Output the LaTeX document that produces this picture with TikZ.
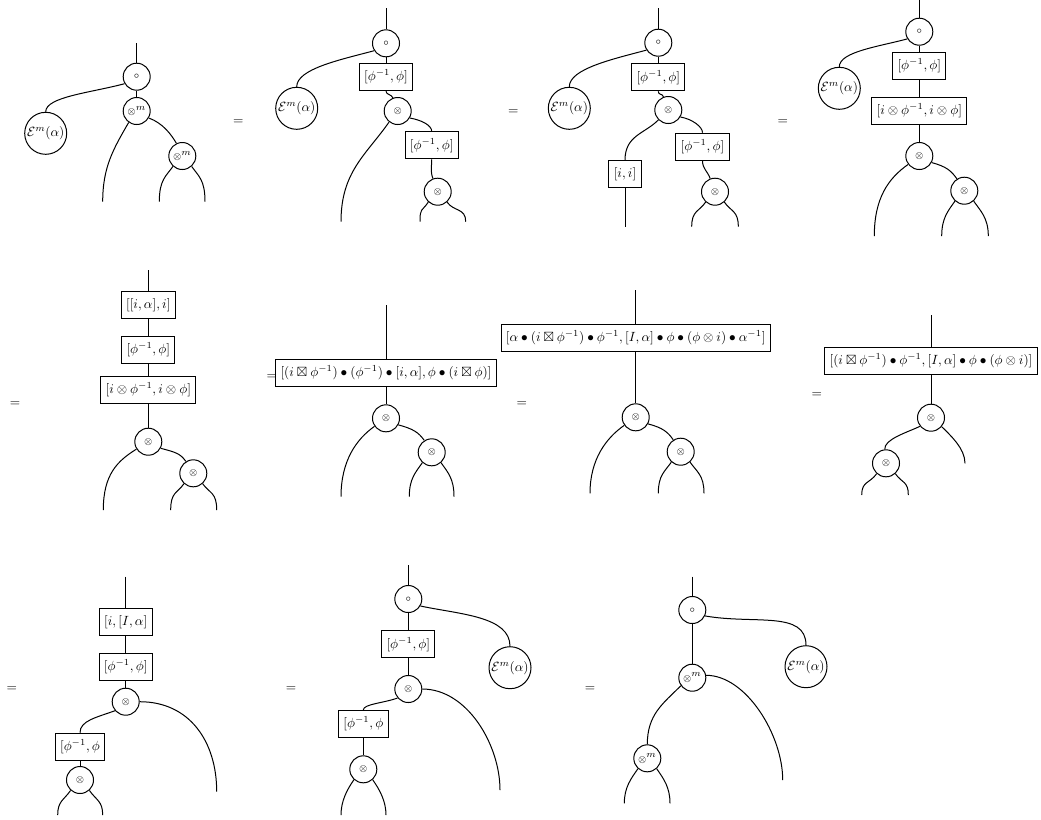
\documentclass[tikz,border=0pt]{standalone}
\usepackage{amsmath,amssymb}
\begin{document}
\begin{tikzpicture}[x=0.75pt,y=0.75pt,line width=0.75pt,
  op/.style={circle,draw,minimum size=20.25pt,inner sep=0pt},
  ec/.style={circle,draw,minimum size=31.5pt,inner sep=0pt},
  bx/.style={draw,rectangle,minimum height=20.25pt,inner sep=3.6pt},
  eqs/.style={inner sep=0pt}]
\path[use as bounding box] (0,0) rectangle (1041,-819);
\newcommand{\tm}{${\scriptstyle\otimes}$}
\newcommand{\tmm}{${\scriptstyle\otimes}^{m}$}
\newcommand{\cmp}{${\scriptstyle\circ}$}
\newcommand{\Ea}{$\mathcal{E}^m(\alpha)$}
\newcommand{\pp}{$[\phi^{-1},\phi]$}
% ---------- Diagram 1
\coordinate (a-t) at (136.7,-43);
\node[op] (a-o) at (136.7,-76.7) {\cmp};
\node[op] (a-m) at (136.7,-111) {\tmm};
\node[ec] (a-E) at (45.7,-133.3) {\Ea};
\node[op] (a-m2) at (182.3,-156) {\tmm};
\coordinate (a-l1) at (102.7,-201.7);
\coordinate (a-l2) at (159.3,-201.7);
\coordinate (a-l3) at (205,-201.7);
\draw (a-t) -- (a-o) -- (a-m);
\draw (a-o.210) .. controls +(195:35) and +(90:15) .. (a-E.north);
\draw (a-m.235) .. controls +(240:30) and +(90:35) .. (a-l1);
\draw (a-m.-30) .. controls +(-20:15) and +(120:10) .. (a-m2.115);
\draw (a-m2.228) .. controls +(235:12) and +(90:22) .. (a-l2);
\draw (a-m2.312) .. controls +(-55:12) and +(90:22) .. (a-l3);
\node[eqs] (eq1) at (238.3,-121.7) {$=$};
% ---------- Diagram 2
\coordinate (b-t) at (386,-8.3);
\node[op] (b-o) at (386,-43.3) {\cmp};
\node[bx] (b-b1) at (386,-77) {\pp};
\node[op] (b-m) at (397.7,-111) {\tm};
\node[ec] (b-E) at (296.7,-108.3) {\Ea};
\node[bx] (b-b2) at (431.7,-145.3) {\pp};
\node[op] (b-m2) at (437.7,-191.7) {\tm};
\coordinate (b-l1) at (341,-221.7);
\coordinate (b-l2) at (420,-221.7);
\coordinate (b-l3) at (465.7,-221.7);
\draw (b-t) -- (b-o) -- (b-b1);
\draw (b-o.212) .. controls +(195:35) and +(90:18) .. (b-E.north);
\draw (b-b1.south) .. controls +(-90:4) and +(110:4) .. (b-m.110);
\draw (b-m.232) .. controls +(235:40) and +(90:50) .. (b-l1);
\draw (b-m.-30) .. controls +(-10:12) and +(90:6) .. (b-b2.north);
\draw (b-b2.south) .. controls +(-90:8) and +(110:8) .. (b-m2.110);
\draw (b-m2.228) .. controls +(235:12) and +(90:14) .. (b-l2);
\draw (b-m2.312) .. controls +(-55:12) and +(90:14) .. (b-l3);
\node[eqs] (eq2) at (513.3,-111.7) {$=$};
% ---------- Diagram 3
\coordinate (c-t) at (658.3,-8.3);
\node[op] (c-o) at (658.3,-42.7) {\cmp};
\node[ec] (c-E) at (569.3,-108.3) {\Ea};
\node[bx] (c-b1) at (658.3,-77.3) {\pp};
\node[op] (c-m) at (668.3,-110) {\tm};
\node[bx] (c-bi) at (625,-174.3) {$[i,i]$};
\node[bx] (c-b2) at (702.5,-146.7) {\pp};
\node[op] (c-m2) at (715,-191.7) {\tm};
\coordinate (c-l1) at (625,-226.7);
\coordinate (c-l2) at (691.7,-226.7);
\coordinate (c-l3) at (738.3,-226.7);
\draw (c-t) -- (c-o) -- (c-b1);
\draw (c-o.212) .. controls +(195:35) and +(90:18) .. (c-E.north);
\draw (c-b1.south) .. controls +(-90:4) and +(110:4) .. (c-m.110);
\draw (c-m.225) .. controls +(225:20) and +(90:25) .. (c-bi.north);
\draw (c-bi) -- (c-l1);
\draw (c-m.-30) .. controls +(-10:12) and +(90:6) .. (c-b2.north);
\draw (c-b2.south) .. controls +(-90:8) and +(110:8) .. (c-m2.110);
\draw (c-m2.228) .. controls +(235:12) and +(90:16) .. (c-l2);
\draw (c-m2.312) .. controls +(-55:12) and +(90:16) .. (c-l3);
\node[eqs] (eq3) at (782.7,-121.7) {$=$};
% ---------- Diagram 4
\coordinate (d-t) at (919.3,0);
\node[op] (d-o) at (919.3,-31.7) {\cmp};
\node[ec] (d-E) at (839.3,-88.3) {\Ea};
\node[bx] (d-b1) at (919.3,-66) {\pp};
\node[bx] (d-b2) at (919.3,-111) {$[i\otimes\phi^{-1},i\otimes\phi]$};
\node[op] (d-m) at (919.3,-156) {\tm};
\node[op] (d-m2) at (964.3,-190.7) {\tm};
\coordinate (d-l1) at (874.3,-236);
\coordinate (d-l2) at (941.7,-236);
\coordinate (d-l3) at (988.3,-236);
\draw (d-t) -- (d-o) -- (d-b1) -- (d-b2) -- (d-m);
\draw (d-o.211) .. controls +(195:30) and +(90:15) .. (d-E.north);
\draw (d-m.217) .. controls +(215:24) and +(90:38) .. (d-l1);
\draw (d-m.-28) .. controls +(-15:15) and +(125:10) .. (d-m2.122);
\draw (d-m2.228) .. controls +(235:12) and +(90:18) .. (d-l2);
\draw (d-m2.312) .. controls +(-55:12) and +(90:18) .. (d-l3);
% ---------- Diagram 5
\node[eqs] (eq4) at (15,-404) {$=$};
\coordinate (e-t) at (148.3,-270);
\node[bx] (e-b1) at (148.3,-305) {$[[i,\alpha],i]$};
\node[bx] (e-b2) at (148.3,-350) {\pp};
\node[bx] (e-b3) at (148.3,-390) {$[i\otimes\phi^{-1},i\otimes\phi]$};
\node[op] (e-m) at (148.3,-441.7) {\tm};
\node[op] (e-m2) at (193.3,-473.3) {\tm};
\coordinate (e-l1) at (103.3,-510);
\coordinate (e-l2) at (170.7,-510);
\coordinate (e-l3) at (216.7,-510);
\draw (e-t) -- (e-b1) -- (e-b2) -- (e-b3) -- (e-m);
\draw (e-m.212) .. controls +(212:22) and +(90:36) .. (e-l1);
\draw (e-m.-28) .. controls +(-15:15) and +(125:10) .. (e-m2.122);
\draw (e-m2.228) .. controls +(235:12) and +(90:18) .. (e-l2);
\draw (e-m2.312) .. controls +(-55:12) and +(90:18) .. (e-l3);
% ---------- Diagram 6
\node[eqs] (eq5) at (271.7,-377.3) {$=$};
\coordinate (f-t) at (386,-305);
\node[bx] (f-b) at (386,-372.7) {$[(i\boxtimes\phi^{-1})\bullet(\phi^{-1})\bullet[i,\alpha],\phi\bullet(i\boxtimes\phi)]$};
\node[op] (f-m) at (386,-418.3) {\tm};
\node[op] (f-m2) at (431.7,-452.3) {\tm};
\coordinate (f-l1) at (341,-496.7);
\coordinate (f-l2) at (409.3,-496.7);
\coordinate (f-l3) at (454,-496.7);
\draw (f-t) -- (f-b) -- (f-m);
\draw (f-m.215) .. controls +(215:22) and +(90:36) .. (f-l1);
\draw (f-m.-28) .. controls +(-15:15) and +(125:10) .. (f-m2.122);
\draw (f-m2.228) .. controls +(235:12) and +(90:18) .. (f-l2);
\draw (f-m2.312) .. controls +(-55:12) and +(90:18) .. (f-l3);
% ---------- Diagram 7
\node[eqs] (eq6) at (521.7,-404) {$=$};
\coordinate (g-t) at (635.7,-290);
\node[bx] (g-b) at (635.7,-338) {$[\alpha\bullet(i\boxtimes\phi^{-1})\bullet\phi^{-1},[I,\alpha]\bullet\phi\bullet(\phi\otimes i)\bullet\alpha^{-1}]$};
\node[op] (g-m) at (635.7,-417.3) {\tm};
\node[op] (g-m2) at (680.7,-451.7) {\tm};
\coordinate (g-l1) at (590,-493.3);
\coordinate (g-l2) at (658.3,-493.3);
\coordinate (g-l3) at (704,-493.3);
\draw (g-t) -- (g-b) -- (g-m);
\draw (g-m.215) .. controls +(215:22) and +(90:34) .. (g-l1);
\draw (g-m.-28) .. controls +(-15:15) and +(125:10) .. (g-m2.122);
\draw (g-m2.228) .. controls +(235:12) and +(90:18) .. (g-l2);
\draw (g-m2.312) .. controls +(-55:12) and +(90:18) .. (g-l3);
% ---------- Diagram 8
\node[eqs] (eq7) at (816.7,-395) {$=$};
\coordinate (h-t) at (931,-315);
\node[bx] (h-b) at (931,-361) {$[(i\boxtimes\phi^{-1})\bullet\phi^{-1},[I,\alpha]\bullet\phi\bullet(\phi\otimes i)]$};
\node[op] (h-m) at (931,-417.7) {\tm};
\node[op] (h-m2) at (886,-463.3) {\tm};
\coordinate (h-r) at (965,-463.3);
\coordinate (h-l2) at (861.7,-495);
\coordinate (h-l3) at (908.3,-495);
\draw (h-t) -- (h-b) -- (h-m);
\draw (h-m.-40) .. controls +(-45:12) and +(90:15) .. (h-r);
\draw (h-m.218) .. controls +(205:15) and +(95:10) .. (h-m2.95);
\draw (h-m2.228) .. controls +(235:12) and +(90:14) .. (h-l2);
\draw (h-m2.312) .. controls +(-55:12) and +(90:14) .. (h-l3);
% ---------- Diagram 9
\node[eqs] (eq8) at (11.7,-689) {$=$};
\coordinate (i-t) at (125.7,-576.7);
\node[bx] (i-b1) at (125.7,-621.7) {$[i,[I,\alpha]$};
\node[bx] (i-b2) at (125.7,-666.7) {\pp};
\node[op] (i-m) at (125.7,-701.7) {\tm};
\node[bx] (i-b3) at (80,-746.7) {$[\phi^{-1},\phi$};
\node[op] (i-m2) at (80,-780) {\tm};
\coordinate (i-l2) at (57.7,-815);
\coordinate (i-l3) at (102.7,-815);
\coordinate (i-r) at (216.7,-791.7);
\draw (i-t) -- (i-b1) -- (i-b2) -- (i-m);
\draw (i-m.220) .. controls +(200:20) and +(90:12) .. (i-b3.north);
\draw (i-b3) -- (i-m2);
\draw (i-m2.228) .. controls +(235:12) and +(90:14) .. (i-l2);
\draw (i-m2.312) .. controls +(-55:12) and +(90:14) .. (i-l3);
\draw (i-m.east) .. controls +(0:50) and +(90:50) .. (i-r);
% ---------- Diagram 10
\node[eqs] (eq9) at (291,-689) {$=$};
\coordinate (j-t) at (408.3,-565);
\node[op] (j-o) at (408.3,-599) {\cmp};
\node[bx] (j-b1) at (408.3,-644.3) {\pp};
\node[op] (j-m) at (408.3,-689) {\tm};
\node[ec] (j-E) at (510,-667.7) {\Ea};
\node[bx] (j-b3) at (363.3,-724) {$[\phi^{-1},\phi$};
\node[op] (j-m2) at (363.3,-769.3) {\tm};
\coordinate (j-l2) at (341,-815);
\coordinate (j-l3) at (386,-815);
\coordinate (j-r) at (500,-790);
\draw (j-t) -- (j-o) -- (j-b1) -- (j-m);
\draw (j-o.-30) .. controls +(-12:40) and +(90:30) .. (j-E.north);
\draw (j-m.220) .. controls +(200:15) and +(90:6) .. (j-b3.north);
\draw (j-b3) -- (j-m2);
\draw (j-m2.228) .. controls +(235:12) and +(90:14) .. (j-l2);
\draw (j-m2.312) .. controls +(-55:12) and +(90:14) .. (j-l3);
\draw (j-m.east) .. controls +(0:45) and +(90:45) .. (j-r);
% ---------- Diagram 11
\node[eqs] (eq10) at (590,-689) {$=$};
\coordinate (k-t) at (692.3,-576.7);
\node[op] (k-o) at (692.3,-610) {\cmp};
\node[op] (k-m) at (692.3,-677.7) {\tmm};
\node[ec] (k-E) at (806,-666.7) {\Ea};
\node[op] (k-m2) at (647.3,-758.3) {\tmm};
\coordinate (k-l2) at (624.3,-803.3);
\coordinate (k-l3) at (670,-803.3);
\coordinate (k-r) at (782.7,-780);
\draw (k-t) -- (k-o) -- (k-m);
\draw (k-o.-25) .. controls +(-10:50) and +(90:35) .. (k-E.north);
\draw (k-m.215) .. controls +(225:25) and +(90:30) .. (k-m2.north);
\draw (k-m2.228) .. controls +(235:12) and +(90:16) .. (k-l2);
\draw (k-m2.312) .. controls +(-55:12) and +(90:16) .. (k-l3);
\draw (k-m.10) .. controls +(0:40) and +(90:45) .. (k-r);
\end{tikzpicture}
\end{document}
